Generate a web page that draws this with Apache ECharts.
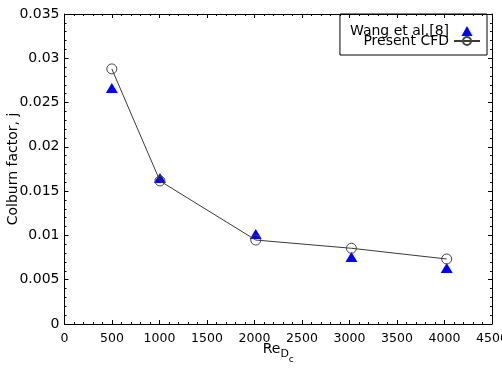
<!DOCTYPE html>
<html>
<head>
<meta charset="utf-8">
<script src="https://cdn.jsdelivr.net/npm/echarts@6/dist/echarts.min.js"></script>
<style>html,body{margin:0;padding:0;background:#fff}#c{width:502px;height:370px}</style>
</head>
<body>
<div id="c"></div>
<script>
const reCfd = [498, 1005, 2013, 3020, 4023];
const jCfd = [0.0288, 0.01615, 0.00948, 0.00855, 0.00734];
const reWang = [498, 1005, 2013, 3020, 4023];
const jWang = [0.02665, 0.01648, 0.01016, 0.00756, 0.00632];
const seriesNames = ['Wang et al.[8]', 'Present CFD'];

const font = 'DejaVu Sans';
const chart = echarts.init(document.getElementById('c'), null, {renderer: 'canvas'});
const axisBase = {
  axisLine: {show: true, onZero: false, lineStyle: {color: '#000', width: 1}},
  axisTick: {show: true, inside: true, length: 4, lineStyle: {color: '#000'}},
  minorTick: {show: true, splitNumber: 5, length: 2, lineStyle: {color: '#000'}},
  splitLine: {show: false}
};
chart.setOption({
  animation: false,
  backgroundColor: '#fff',
  grid: {left: 64.5, right: 10, top: 14, bottom: 46, containLabel: false, outerBoundsMode: 'none'},
  legend: {
    orient: 'vertical', right: 15, top: 14, align: 'right',
    borderColor: '#000', borderWidth: 1, padding: [10, 6, 7, 10],
    itemGap: -4, itemWidth: 26, itemHeight: 10, symbolKeepAspect: true,
    textStyle: {fontFamily: font, fontSize: 14, color: '#000'},
    data: [
      {name: seriesNames[0], icon: 'path://M5,0L10,9L0,9Z'},
      {name: seriesNames[1]}
    ]
  },
  xAxis: [
    Object.assign({}, axisBase, {
      type: 'value', min: 0, max: 4500, interval: 500,
      name: '{re|Re}{d|D}{c|c}', nameLocation: 'middle', nameGap: 18, nameMoveOverlap: false,
      nameTextStyle: {
        verticalAlign: 'top',
        rich: {
          re: {fontFamily: font, fontSize: 14, lineHeight: 16, color: '#000', verticalAlign: 'top'},
          d: {fontFamily: font, fontSize: 11, lineHeight: 12, color: '#000', verticalAlign: 'top', padding: [7, 0, 0, 0]},
          c: {fontFamily: font, fontSize: 9, lineHeight: 10, color: '#000', verticalAlign: 'top', padding: [13, 0, 0, 0]}
        }
      },
      axisLabel: {fontFamily: font, fontSize: 12.5, color: '#000', margin: 8, formatter: v => String(v)}
    }),
    Object.assign({}, axisBase, {
      type: 'value', position: 'top', min: 0, max: 4500, interval: 500,
      axisLabel: {show: false}
    })
  ],
  yAxis: [
    Object.assign({}, axisBase, {
      type: 'value', min: 0, max: 0.035, interval: 0.005,
      name: 'Colburn factor, j', nameLocation: 'middle', nameGap: 44, nameMoveOverlap: false,
      nameTextStyle: {fontFamily: font, fontSize: 14, color: '#000'},
      axisLabel: {fontFamily: font, fontSize: 14, color: '#000', margin: 5,
        formatter: v => String(+v.toFixed(3))}
    }),
    Object.assign({}, axisBase, {
      type: 'value', position: 'right', min: 0, max: 0.035, interval: 0.005,
      axisLabel: {show: false}
    })
  ],
  series: [
    {
      name: seriesNames[0], type: 'scatter',
      data: reWang.map((x, i) => [x, jWang[i]]),
      symbol: 'path://M5,0L10,9L0,9Z', symbolSize: [12, 10],
      itemStyle: {color: '#0000ff', opacity: 1}, z: 3
    },
    {
      name: seriesNames[1], type: 'line',
      data: reCfd.map((x, i) => [x, jCfd[i]]),
      symbol: 'circle', symbolSize: 10, showSymbol: true,
      lineStyle: {color: '#3a3a3a', width: 1},
      itemStyle: {color: 'rgba(0,0,0,0)', borderColor: '#444', borderWidth: 1},
      z: 4
    }
  ]
});
</script>
</body>
</html>
